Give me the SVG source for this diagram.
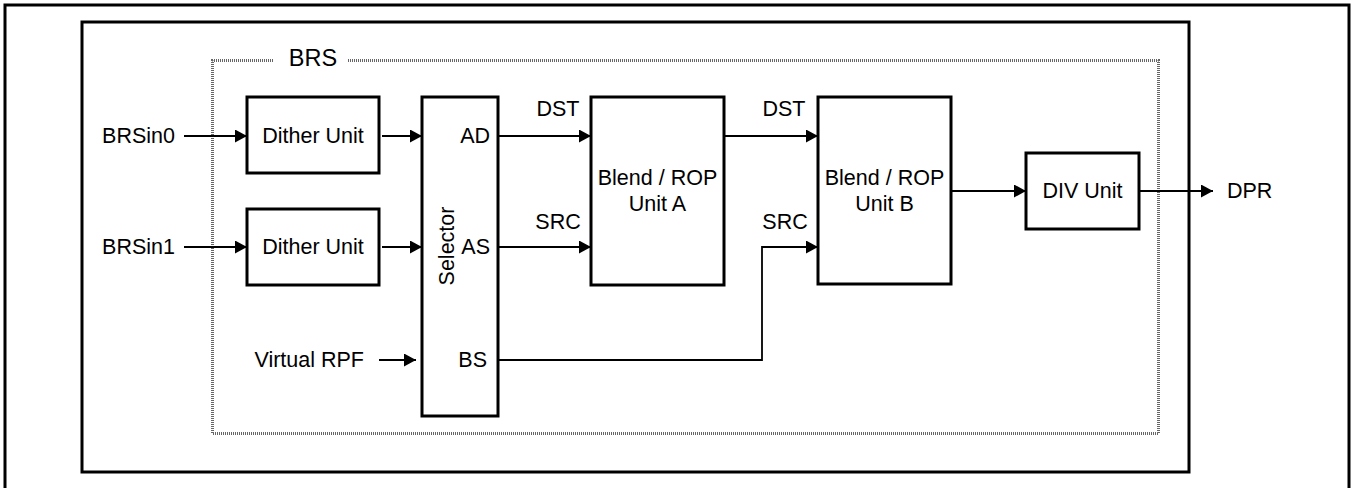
<svg xmlns="http://www.w3.org/2000/svg" width="1352" height="488" viewBox="0 0 1352 488">
<style>
.frame{fill:none;stroke:#000;stroke-width:3}
.box{fill:#fff;stroke:#000;stroke-width:3}
.dot{fill:none;stroke:#666;stroke-width:3;stroke-dasharray:1 1}
.t{font-family:"Liberation Sans",Arial,sans-serif;font-size:21.5px;fill:#000}
.c{text-anchor:middle}
.e{text-anchor:end}
.wire{fill:none;stroke:#000;stroke-width:1.8}
</style>
<defs>
<marker id="arr" viewBox="0 0 12 13" refX="12" refY="6.5" markerWidth="12" markerHeight="13" markerUnits="userSpaceOnUse" orient="auto">
<path d="M0,0 L12,6.5 L0,13 Z" fill="#000"/>
</marker>
</defs>
<rect width="1352" height="488" fill="#fff"/>
<rect class="frame" x="5" y="5" width="1344" height="500"/>
<rect class="frame" x="82" y="22" width="1107" height="450"/>
<g id="brs">
<path class="dot" d="M273,60.5 H212.5 V433.5 H1158.5 V60.5 H348"/>
<text class="t c" x="313" y="66" style="font-size:23.5px">BRS</text>
</g>
<g id="connectors">
<line class="wire" x1="184" y1="136" x2="247" y2="136" marker-end="url(#arr)"/>
<line class="wire" x1="382" y1="136" x2="422" y2="136" marker-end="url(#arr)"/>
<line class="wire" x1="184" y1="247" x2="247" y2="247" marker-end="url(#arr)"/>
<line class="wire" x1="382" y1="247" x2="422" y2="247" marker-end="url(#arr)"/>
<line class="wire" x1="379" y1="360" x2="416" y2="360" marker-end="url(#arr)"/>
<line class="wire" x1="498" y1="136" x2="591" y2="136" marker-end="url(#arr)"/>
<line class="wire" x1="498" y1="247" x2="591" y2="247" marker-end="url(#arr)"/>
<line class="wire" x1="724" y1="136" x2="818" y2="136" marker-end="url(#arr)"/>
<path class="wire" d="M498,360 H762 V247 H818" marker-end="url(#arr)"/>
<line class="wire" x1="951" y1="191" x2="1026" y2="191" marker-end="url(#arr)"/>
<line class="wire" x1="1139" y1="191" x2="1213" y2="191" marker-end="url(#arr)"/>
</g>
<g id="labels">
<text class="t e" x="175" y="143">BRSin0</text>
<text class="t e" x="175" y="254">BRSin1</text>
<text class="t e" x="364" y="367">Virtual RPF</text>
<text class="t c" x="558" y="116">DST</text>
<text class="t c" x="558" y="229">SRC</text>
<text class="t c" x="784" y="116">DST</text>
<text class="t c" x="785" y="229">SRC</text>
<text class="t" x="1227" y="198">DPR</text>
</g>
<g id="dither0">
<rect class="box" x="247" y="97" width="132" height="76"/>
<text class="t c" x="313" y="143">Dither Unit</text>
</g>
<g id="dither1">
<rect class="box" x="247" y="209" width="132" height="76"/>
<text class="t c" x="313" y="254">Dither Unit</text>
</g>
<g id="selector">
<rect class="box" x="422" y="97" width="76" height="319"/>
<text class="t c" transform="translate(454,246) rotate(-90)">Selector</text>
<text class="t e" x="490" y="143">AD</text>
<text class="t e" x="490" y="254">AS</text>
<text class="t e" x="487" y="367">BS</text>
</g>
<g id="blendA">
<rect class="box" x="591" y="97" width="133" height="188"/>
<text class="t c" x="657.5" y="185">Blend / ROP</text>
<text class="t c" x="657.5" y="211">Unit A</text>
</g>
<g id="blendB">
<rect class="box" x="818" y="97" width="133" height="187"/>
<text class="t c" x="884.5" y="185">Blend / ROP</text>
<text class="t c" x="884.5" y="211">Unit B</text>
</g>
<g id="div">
<rect class="box" x="1026" y="153" width="113" height="76"/>
<text class="t c" x="1082.5" y="198">DIV Unit</text>
</g>
</svg>
